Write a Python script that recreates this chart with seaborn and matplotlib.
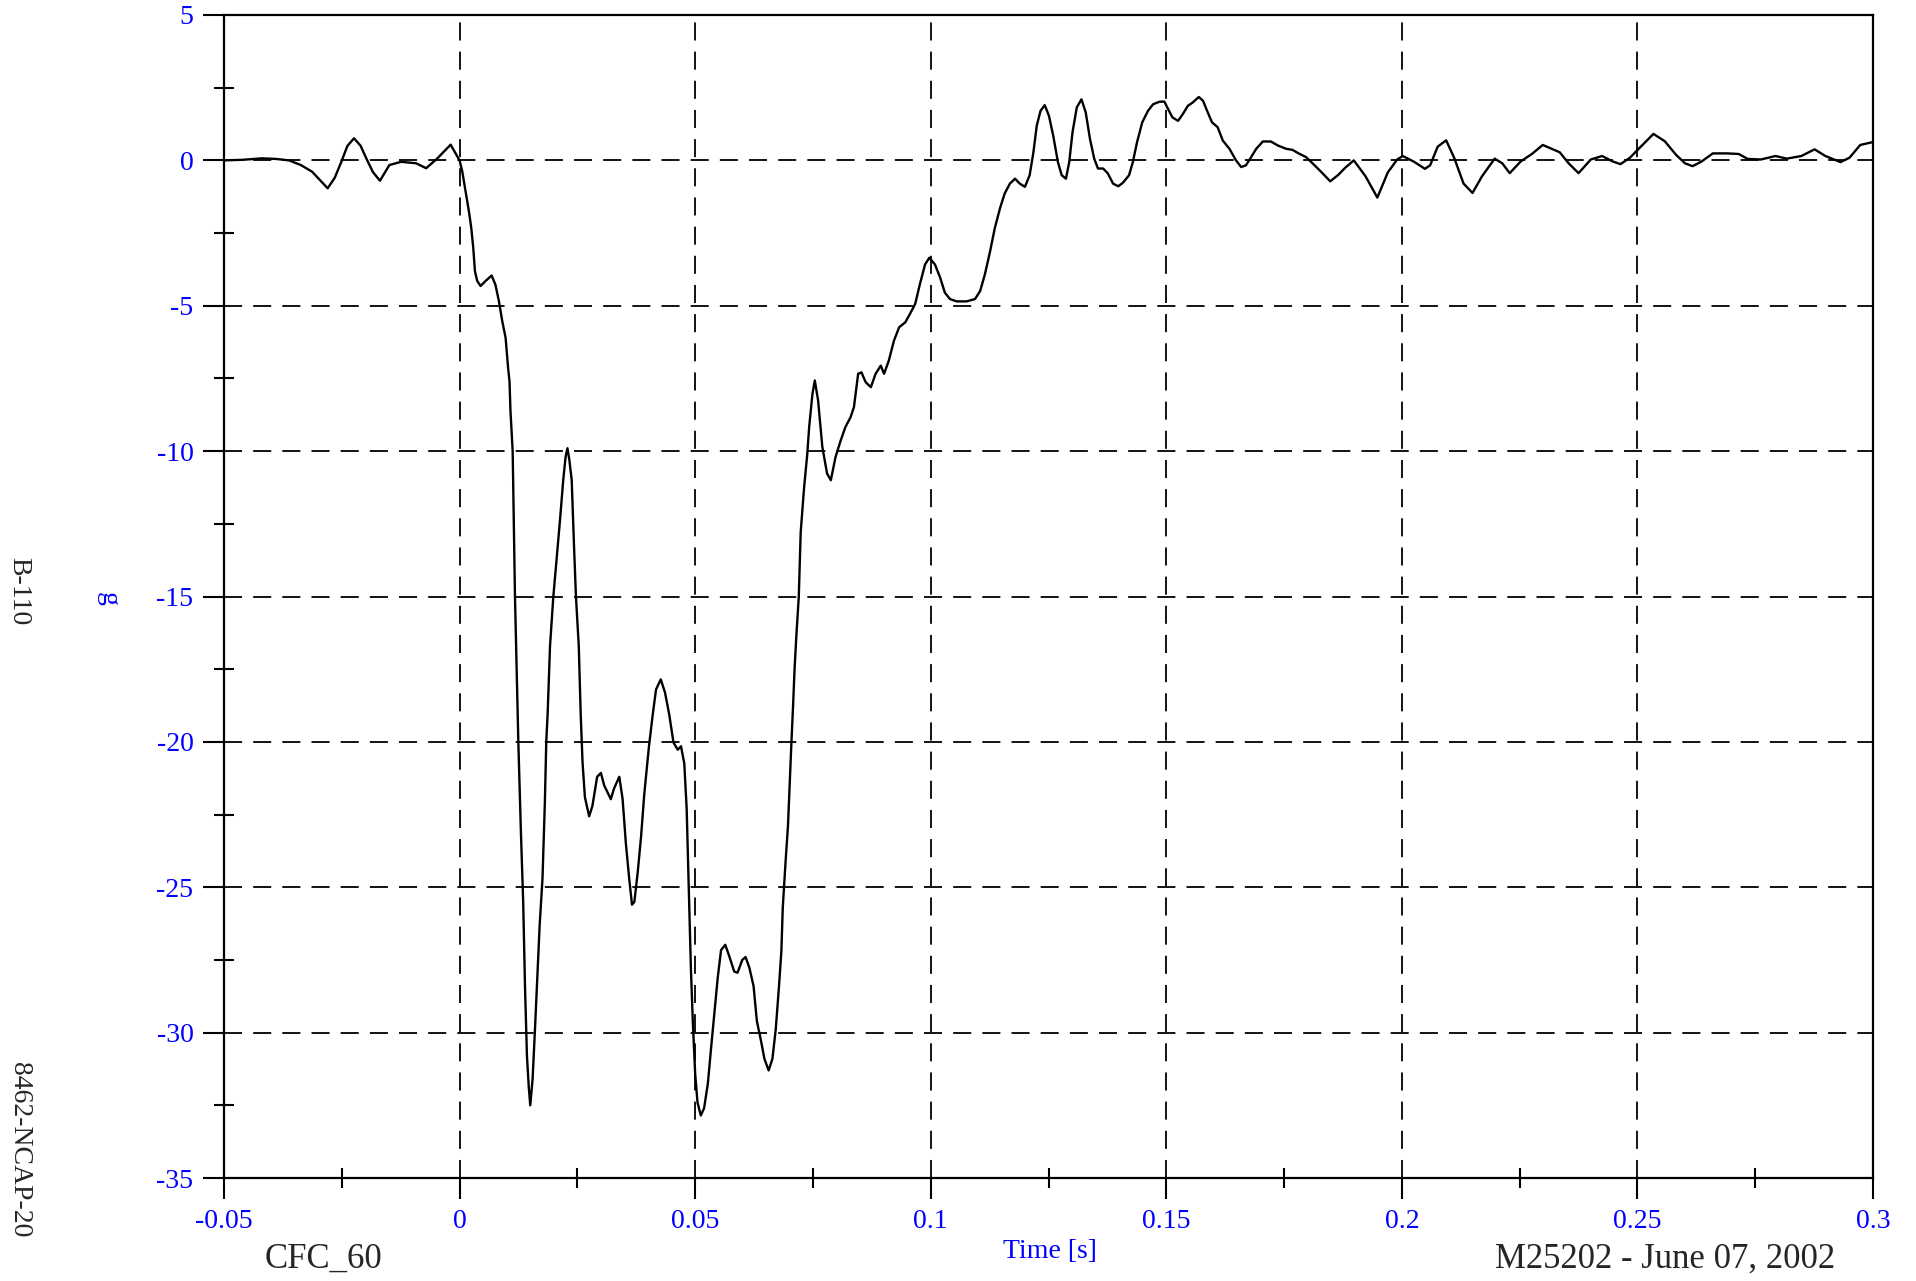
import numpy as np
import pandas as pd
import matplotlib
matplotlib.use('Agg')
import matplotlib.pyplot as plt
from matplotlib.ticker import MultipleLocator, FuncFormatter
import seaborn as sns

# Acceleration trace, time in ms, acceleration in g
t_pre = [-50, -46, -42, -39, -36.2, -33.7, -31.3, -29.5, -28.0, -26.5, -25.1, -23.8,
         -22.4, -21.0, -19.8, -18.4, -16.9, -14.9, -12.4, -9.2, -7.1, -4.7, -1.9, 0.0]
g_pre = [0.0, 0.02, 0.07, 0.05, 0.0, -0.16, -0.39, -0.7, -0.96, -0.6, -0.05, 0.5,
         0.76, 0.5, 0.07, -0.4, -0.70, -0.16, -0.05, -0.1, -0.27, 0.07, 0.54, 0.0]

t_impact = [0.57, 1.27, 1.98, 2.48, 2.9, 3.26, 3.75, 4.46, 5.5, 6.8, 7.6, 8.35, 9.06,
            9.77, 10.3, 10.6, 10.8, 11.27, 11.76, 12.47, 13.0, 13.5, 13.9, 14.3, 14.7,
            15.0, 15.5, 16.0, 16.5, 17.0, 17.6, 18.1, 18.4, 18.7, 19.2, 19.9, 20.7,
            21.3, 22.0, 22.5, 22.9, 23.3, 23.8, 24.3, 24.7, 25.3, 25.7, 26.1, 26.6,
            27.5, 28.2, 29.2, 30.0, 30.7, 32.1, 32.8, 33.9, 34.6, 35.3, 36.0, 36.6,
            37.1, 37.8, 38.5, 39.2, 40.2, 41.0, 41.7, 42.7, 43.6, 44.5, 45.4, 46.3,
            47.0, 47.7, 48.2, 48.5, 48.8, 49.1, 49.5, 50.0, 50.5, 51.2, 51.9, 52.7,
            53.4, 54.1, 54.8, 55.5, 56.4, 57.3, 58.3, 59.0, 60.0, 60.7, 61.5, 62.4,
            63.1, 64.0, 64.7, 65.6, 66.4, 67.1, 67.8, 68.3, 68.6, 69.2, 69.7, 70.0,
            70.4, 70.8, 71.1, 71.5]
g_impact = [-0.38, -1.06, -1.75, -2.32, -3.0, -3.81, -4.15, -4.32, -4.15, -3.96, -4.27,
            -4.84, -5.53, -6.1, -7.14, -7.6, -8.6, -10.0, -15.0, -20.0, -23.0, -25.5,
            -28.5, -30.8, -31.9, -32.5, -31.6, -29.9, -28.1, -26.3, -24.7, -22.1,
            -20.0, -19.0, -16.7, -15.0, -13.5, -12.4, -11.0, -10.2, -9.9, -10.3,
            -11.0, -13.3, -15.0, -16.7, -19.0, -20.7, -21.9, -22.56, -22.2, -21.2,
            -21.07, -21.5, -21.97, -21.6, -21.2, -21.96, -23.5, -24.7, -25.6, -25.5,
            -24.5, -23.3, -21.8, -20.15, -19.06, -18.2, -17.85, -18.3, -19.06, -20.02,
            -20.27, -20.15, -20.75, -22.3, -24.1, -25.9, -27.8, -29.6, -31.4, -32.4,
            -32.85, -32.6, -31.75, -30.5, -29.3, -28.1, -27.16, -26.98, -27.4, -27.9,
            -27.94, -27.5, -27.4, -27.76, -28.4, -29.6, -30.3, -30.9, -31.3, -30.9,
            -29.9, -28.4, -27.2, -25.7, -24.1, -22.9, -21.7, -20.15, -18.7, -17.5,
            -16.3]

t_recovery = [72.0, 72.4, 73.1, 73.8, 74.2, 74.9, 75.4, 76.1, 77.0, 78.0, 78.8, 79.8,
              80.9, 81.9, 83.0, 83.7, 84.6, 85.3, 86.2, 87.3, 88.3, 89.4, 90.1, 91.1,
              92.2, 93.3, 94.6, 95.6, 96.7, 97.7, 98.8, 99.7, 100.9, 102.0, 103.0,
              104.1, 105.5, 107.6, 109.4, 110.5, 111.5, 112.6, 113.6, 114.7, 115.7,
              116.8, 117.9, 118.9, 120.0, 121.0, 121.8, 122.5, 123.3, 124.2, 125.1,
              126.0, 127.0, 127.8, 128.7, 129.4, 130.1, 131.0, 132.0, 132.9, 133.8,
              134.7, 135.5, 136.6, 137.6, 138.7, 139.8, 140.8, 142.1, 142.9, 143.8,
              144.9, 146.1, 147.2, 148.6, 149.6, 150.4, 151.3, 152.5, 153.5, 154.6,
              155.6, 156.9, 157.8, 158.8, 159.7, 160.9, 162.0, 163.4]
g_recovery = [-15.0, -12.8, -11.3, -10.1, -9.17, -8.03, -7.57, -8.26, -9.86, -10.77,
              -11.0, -10.2, -9.63, -9.17, -8.83, -8.49, -7.34, -7.29, -7.63, -7.8,
              -7.34, -7.06, -7.34, -6.89, -6.2, -5.74, -5.57, -5.28, -4.94, -4.26,
              -3.58, -3.35, -3.58, -4.03, -4.55, -4.77, -4.85, -4.85, -4.77, -4.49,
              -3.92, -3.13, -2.33, -1.65, -1.14, -0.8, -0.63, -0.8, -0.91, -0.51, 0.28,
              1.19, 1.7, 1.9, 1.53, 0.85, -0.06, -0.51, -0.63, -0.06, 0.97, 1.82, 2.1,
              1.65, 0.74, 0.06, -0.28, -0.28, -0.45, -0.8, -0.89, -0.77, -0.51, -0.06,
              0.63, 1.31, 1.7, 1.93, 2.02, 2.02, 1.76, 1.48, 1.36, 1.59, 1.88, 1.99,
              2.18, 2.05, 1.65, 1.31, 1.14, 0.68, 0.4]

t_tail = [164.8, 165.9, 166.9, 168.0, 169.1, 170.5, 172.2, 173.7, 175.4, 176.8, 178.2,
          179.7, 181.1, 182.9, 184.8, 186.5, 188.0, 189.8, 192.3, 194.8, 197.0, 199.0,
          200.2, 202.5, 204.9, 206.0, 207.6, 209.4, 211.1, 213.1, 215.0, 217.0, 219.7,
          221.3, 222.9, 225.2, 227.6, 229.9, 233.5, 235.4, 237.5, 240.1, 242.5, 244.8,
          246.4, 248.4, 250.7, 253.4, 255.8, 258.2, 260.1, 261.7, 263.6, 266.0, 269.1,
          271.5, 273.4, 276.2, 279.3, 281.7, 284.8, 287.6, 289.9, 293.1, 295.0, 297.3,
          299.7, 300.0]
g_tail = [0.0, -0.23, -0.17, 0.11, 0.4, 0.65, 0.65, 0.51, 0.4, 0.36, 0.23, 0.11,
          -0.11, -0.4, -0.72, -0.5, -0.25, 0.0, -0.55, -1.28, -0.42, 0.03, 0.15,
          -0.04, -0.29, -0.17, 0.47, 0.69, 0.09, -0.8, -1.12, -0.55, 0.06, -0.1,
          -0.44, -0.04, 0.22, 0.53, 0.28, -0.1, -0.44, 0.03, 0.15, -0.04, -0.13, 0.09,
          0.47, 0.91, 0.66, 0.19, -0.1, -0.2, -0.04, 0.24, 0.24, 0.22, 0.05, 0.03,
          0.15, 0.06, 0.15, 0.38, 0.15, -0.06, 0.09, 0.53, 0.62, 0.62]

df = pd.DataFrame({
    'time': np.concatenate([t_pre, t_impact, t_recovery, t_tail]) / 1000.0,
    'acc': np.concatenate([g_pre, g_impact, g_recovery, g_tail]),
})

sns.set_style('white')
plt.rcParams['font.family'] = ['Liberation Serif', 'DejaVu Serif']
plt.rcParams['axes.unicode_minus'] = False
plt.rcParams['lines.scale_dashes'] = False

fig, ax = plt.subplots(figsize=(19.16, 12.81), dpi=100)
fig.subplots_adjust(left=224 / 1916, right=1873 / 1916, top=1 - 15 / 1281, bottom=1 - 1178 / 1281)

sns.lineplot(data=df, x='time', y='acc', ax=ax, color='black', linewidth=1.7,
             estimator=None, sort=False)

ax.set_xlim(-0.05, 0.3)
ax.set_ylim(-35, 5)
ax.xaxis.set_major_locator(MultipleLocator(0.05))
ax.xaxis.set_minor_locator(MultipleLocator(0.025))
ax.yaxis.set_major_locator(MultipleLocator(5))
ax.yaxis.set_minor_locator(MultipleLocator(2.5))
fmt = FuncFormatter(lambda v, p: '%g' % round(v, 4))
ax.xaxis.set_major_formatter(fmt)
ax.yaxis.set_major_formatter(fmt)

ax.grid(which='major', color='black', linestyle=(0, (13, 8)), linewidth=1.3)
ax.grid(which='minor', visible=False)
for s in ax.spines.values():
    s.set_color('black')
    s.set_linewidth(1.6)

ax.tick_params(which='major', direction='out', length=15, width=1.5, color='black',
               labelcolor='blue', labelsize=20, pad=7, bottom=True, left=True)
ax.tick_params(which='minor', direction='inout', length=15, width=1.5, color='black',
               bottom=True, left=True)
ax.set_xlabel('')
ax.set_ylabel('')

# labels placed around the frame
fig.text(1050 / 1916, 1 - 1251 / 1281, 'Time [s]', color='blue', fontsize=20,
         ha='center', va='center')
fig.text(108 / 1916, 1 - 599 / 1281, 'g', color='blue', fontsize=20, rotation=270,
         ha='center', va='center')
fig.text(323 / 1916, 1 - 1259 / 1281, 'CFC_60', fontsize=25, ha='center', va='center')
fig.text(1665 / 1916, 1 - 1259 / 1281, 'M25202 - June 07, 2002', fontsize=25,
         ha='center', va='center')
fig.text(19 / 1916, 1 - 591 / 1281, 'B-110', fontsize=20, rotation=270,
         ha='center', va='center')
fig.text(19 / 1916, 1 - 1150 / 1281, '8462-NCAP-20', fontsize=20, rotation=270,
         ha='center', va='center')

fig.savefig('out.png', dpi=100)
